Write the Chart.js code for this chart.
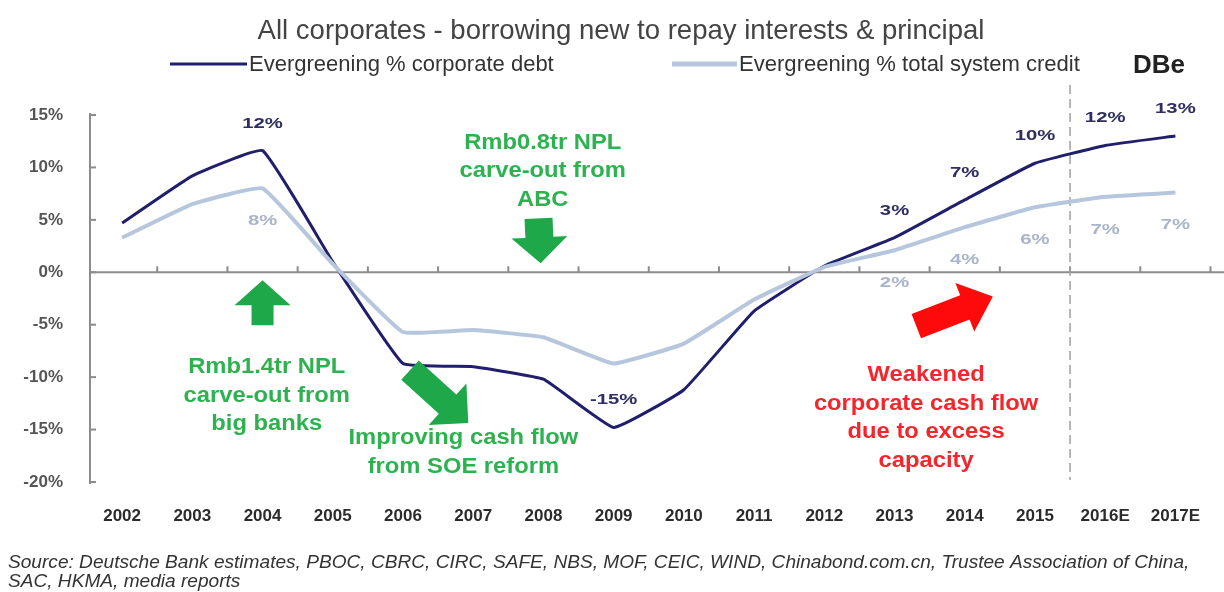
<!DOCTYPE html>
<html>
<head>
<meta charset="utf-8">
<script src="https://cdn.jsdelivr.net/npm/chart.js@4.4.1/dist/chart.umd.min.js"></script>
<style>
html,body{margin:0;padding:0;background:#fff;}
#wrap{width:1224px;height:592px;position:relative;}
</style>
</head>
<body>
<div id="wrap"><canvas id="c" width="1224" height="592"></canvas></div>
<script>
// ---- data ----
const categories = ['2002','2003','2004','2005','2006','2007','2008','2009','2010','2011','2012','2013','2014','2015','2016E','2017E'];
const corporateDebt = [4.7, 9.2, 11.6, 1.0, -8.7, -9.0, -10.2, -14.8, -11.2, -3.7, 0.6, 3.3, 6.9, 10.4, 12.1, 13.0];
const totalCredit   = [3.3, 6.5, 8.0, 0.8, -5.7, -5.5, -6.2, -8.7, -6.8, -2.6, 0.5, 2.1, 4.3, 6.2, 7.2, 7.6];
const corporateDebtLabels = [null, null, '12%', null, null, null, null, '-15%', null, null, null, '3%', '7%', '10%', '12%', '13%'];
const totalCreditLabels   = [null, null, '8%', null, null, null, null, null, null, null, null, '2%', '4%', '6%', '7%', '7%'];
const yTicks = [15, 10, 5, 0, -5, -10, -15, -20];
const seriesNames = ['Evergreening % corporate debt', 'Evergreening % total system credit'];
const titleText = 'All corporates - borrowing new to repay interests & principal';
const sourceLines = ['Source: Deutsche Bank estimates, PBOC, CBRC, CIRC, SAFE, NBS, MOF, CEIC, WIND, Chinabond.com.cn, Trustee Association of China,', 'SAC, HKMA, media reports'];
const forecastStart = 13.5; // between 2015 and 2016E
const notes = [
  {lines: ['Rmb1.4tr NPL', 'carve-out from', 'big banks'], x: 2.06, y: -9.05, color: '#2db24f'},
  {lines: ['Rmb0.8tr NPL', 'carve-out from', 'ABC'], x: 5.99, y: 12.38, color: '#2db24f'},
  {lines: ['Improving cash flow', 'from SOE reform'], x: 4.86, y: -15.8, color: '#2db24f'},
  {lines: ['Weakened', 'corporate cash flow', 'due to excess', 'capacity'], x: 11.45, y: -9.8, color: '#f2262b'}
];
const arrows = [
  {from: [2.0, -5.05], to: [2.0, -0.76], color: '#1fa84a'},
  {from: [5.93, 5.14], to: [5.96, 0.86], color: '#1fa84a'},
  {from: [4.10, -9.33], to: [4.93, -14.38], color: '#1fa84a'},
  {from: [11.31, -5.14], to: [12.4, -2.3], color: '#ff0a0a'}
];
</script>
<script>
const DARK = '#211f6c';
const LIGHT = '#b6c6dd';
const FONT = '"Liberation Sans", Arial, sans-serif';

function drawText(ctx, s, x, y, font, color, align, sx) {
  ctx.save();
  ctx.font = font; ctx.fillStyle = color; ctx.textBaseline = 'middle'; ctx.textAlign = align;
  ctx.translate(x, y); ctx.scale(sx || 1, 1);
  ctx.fillText(s, 0, 0);
  ctx.restore();
}
function widthOf(ctx, s, font) { ctx.save(); ctx.font = font; const w = ctx.measureText(s).width; ctx.restore(); return w; }
function fitFont(ctx, s, style, target) {
  const w = widthOf(ctx, s, style + ' 20px ' + FONT);
  return style + ' ' + (20 * target / w).toFixed(2) + 'px ' + FONT;
}
function drawArrow(ctx, tx, ty, hx, hy, shw, hhw, hl, color) {
  const dx = hx - tx, dy = hy - ty, L = Math.hypot(dx, dy);
  ctx.save(); ctx.translate(tx, ty); ctx.rotate(Math.atan2(dy, dx));
  ctx.beginPath();
  ctx.moveTo(0, -shw); ctx.lineTo(L - hl, -shw); ctx.lineTo(L - hl, -hhw); ctx.lineTo(L, 0);
  ctx.lineTo(L - hl, hhw); ctx.lineTo(L - hl, shw); ctx.lineTo(0, shw); ctx.closePath();
  ctx.fillStyle = color; ctx.fill(); ctx.restore();
}

const decor = {
  id: 'decor',
  beforeDatasetsDraw(chart) {
    const ctx = chart.ctx, xs = chart.scales.x, ys = chart.scales.y, a = chart.chartArea;
    ctx.save();
    ctx.strokeStyle = '#8c8c8c'; ctx.lineWidth = 2;
    ctx.beginPath(); ctx.moveTo(a.left + 3, ys.getPixelForValue(15) - 2); ctx.lineTo(a.left + 3, ys.getPixelForValue(-20) + 2); ctx.stroke();
    yTicks.forEach(v => { const py = ys.getPixelForValue(v); ctx.beginPath(); ctx.moveTo(a.left + 3, py); ctx.lineTo(a.left + 9, py); ctx.stroke(); });
    const y0 = ys.getPixelForValue(0);
    ctx.beginPath(); ctx.moveTo(a.left + 3, y0); ctx.lineTo(chart.width, y0); ctx.stroke();
    for (let i = 1; i <= categories.length; i++) {
      const px = xs.getPixelForValue(i - 0.5);
      ctx.beginPath(); ctx.moveTo(px, y0); ctx.lineTo(px, y0 - 6); ctx.stroke();
    }
    const fx = xs.getPixelForValue(forecastStart);
    ctx.strokeStyle = '#a0a0a0'; ctx.lineWidth = 1.5; ctx.setLineDash([9, 5]);
    ctx.beginPath(); ctx.moveTo(fx, a.top - 30); ctx.lineTo(fx, a.bottom - 2); ctx.stroke();
    ctx.setLineDash([]);
    ctx.restore();
  },
  afterDatasetsDraw(chart) {
    const ctx = chart.ctx, xs = chart.scales.x, ys = chart.scales.y;
    const lf = 'bold 14px ' + FONT;
    corporateDebtLabels.forEach((t, i) => { if (t) drawText(ctx, t, xs.getPixelForValue(i), ys.getPixelForValue(corporateDebt[i]) - 27, lf, '#2e2e62', 'center', 1.45); });
    totalCreditLabels.forEach((t, i) => { if (t) drawText(ctx, t, xs.getPixelForValue(i), ys.getPixelForValue(totalCredit[i]) + 33, lf, '#a9b5ca', 'center', 1.45); });
    const sizes = [[11, 28, 25], [14, 28, 26], [13, 28, 28], [13, 26, 30]];
    arrows.forEach((ar, k) => {
      const s = sizes[k];
      drawArrow(ctx, xs.getPixelForValue(ar.from[0]), ys.getPixelForValue(ar.from[1]), xs.getPixelForValue(ar.to[0]), ys.getPixelForValue(ar.to[1]), s[0], s[1], s[2], ar.color);
    });
    const nf = 'bold 22px ' + FONT;
    notes.forEach(n => {
      const cx = xs.getPixelForValue(n.x); let cy = ys.getPixelForValue(n.y);
      n.lines.forEach((ln, j) => drawText(ctx, ln, cx, cy + j * 28.5, nf, n.color, 'center', 1.08));
    });
  },
  afterDraw(chart) {
    const ctx = chart.ctx;
    drawText(ctx, titleText, 621, 31, fitFont(ctx, titleText, 'normal', 727), '#444444', 'center', 1);
    ctx.save();
    ctx.strokeStyle = DARK; ctx.lineWidth = 3; ctx.beginPath(); ctx.moveTo(170, 64); ctx.lineTo(247, 64); ctx.stroke();
    ctx.strokeStyle = LIGHT; ctx.lineWidth = 5; ctx.beginPath(); ctx.moveTo(672, 64); ctx.lineTo(737, 64); ctx.stroke();
    ctx.restore();
    drawText(ctx, seriesNames[0], 249, 65, fitFont(ctx, seriesNames[0], 'normal', 305), '#333333', 'left', 1);
    drawText(ctx, seriesNames[1], 739, 65, fitFont(ctx, seriesNames[1], 'normal', 341), '#333333', 'left', 1);
    drawText(ctx, 'DBe', 1133, 66, fitFont(ctx, 'DBe', 'bold', 52), '#222222', 'left', 1);
    const sf = fitFont(ctx, sourceLines[0], 'italic', 1182);
    drawText(ctx, sourceLines[0], 8, 563, sf, '#333333', 'left', 1);
    drawText(ctx, sourceLines[1], 8, 582, sf, '#333333', 'left', 1);
  }
};

new Chart(document.getElementById('c'), {
  type: 'line',
  data: {
    labels: categories,
    datasets: [
      {label: seriesNames[0], data: corporateDebt, borderColor: DARK, borderWidth: 3, pointRadius: 0, tension: 0.1, order: 1},
      {label: seriesNames[1], data: totalCredit, borderColor: LIGHT, borderWidth: 4, pointRadius: 0, tension: 0.1, order: 0}
    ]
  },
  options: {
    responsive: false, animation: false, events: [],
    layout: {padding: {top: 115, bottom: 60, right: 1, left: 0}},
    plugins: {legend: {display: false}, tooltip: {enabled: false}, title: {display: false}},
    scales: {
      x: {
        offset: true,
        grid: {display: false, drawTicks: false},
        border: {display: false},
        ticks: {padding: 24, color: '#2b2b2b', font: {family: FONT, size: 17, weight: 'bold'}, maxRotation: 0, autoSkip: false},
        afterFit(s) { s.height = 50; }
      },
      y: {
        min: -20, max: 15,
        grid: {display: false, drawTicks: false},
        border: {display: false},
        ticks: {stepSize: 5, padding: 24, color: '#555555', font: {family: FONT, size: 17, weight: 'bold'}, callback: v => v + '%'},
        afterFit(s) { s.width = 87; }
      }
    }
  },
  plugins: [decor]
});
</script>
</body>
</html>
